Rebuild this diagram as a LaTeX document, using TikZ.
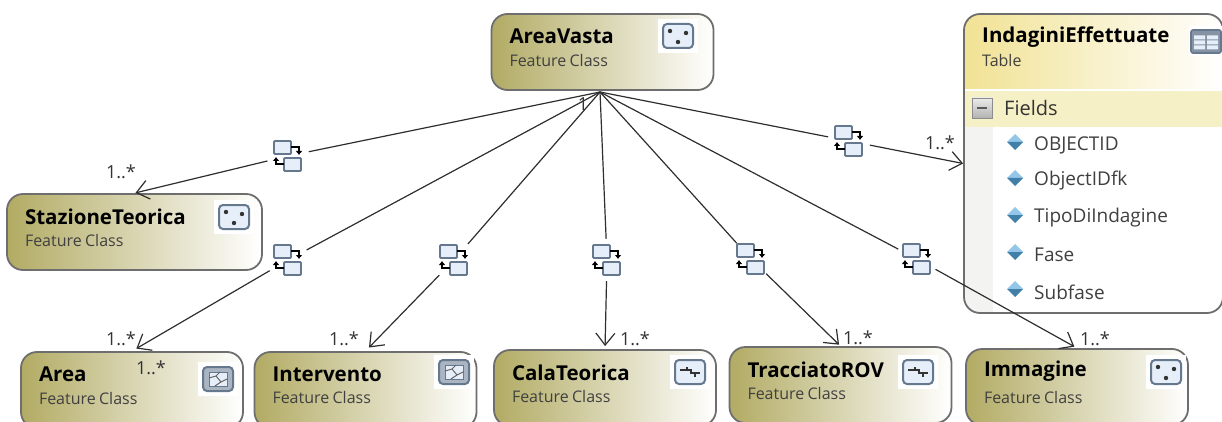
\documentclass[tikz,border=0pt]{standalone}
\usepackage{fontspec}
\setmainfont{Open Sans}
\usetikzlibrary{
    calc,
    arrows.meta
}
\definecolor{boxedge}{HTML}{6E6E6E}
\definecolor{olive}{HTML}{B2AB64}
\definecolor{iconedge}{HTML}{66788E}
\definecolor{iconfill}{HTML}{E6EFF9}
\definecolor{tablehead}{HTML}{F1E294}
\definecolor{tableband}{HTML}{F6F0C6}
\definecolor{tableside}{HTML}{F3F3F1}
\definecolor{linkline}{HTML}{2E2E2E}
\definecolor{marktop}{HTML}{93C6E8}
\definecolor{markbottom}{HTML}{3F7FA8}
\newcommand{\titlefont}{\fontsize{20.5}{24}\selectfont\bfseries}
\newcommand{\subfont}{\fontsize{16}{19}\selectfont\color{black!75}}
\newcommand{\boxlabel}[1]{{\titlefont #1}\\[9pt]{\subfont Feature Class}\\[-3pt]\mbox{}}
\tikzset{
    >={Straight Barb[length=12pt,width=19pt]},
    fcbox/.style={draw=boxedge, line width=1.8pt, rounded corners=16pt, left color=olive,
        right color=white, minimum height=76pt, inner xsep=18pt, inner ysep=0pt,
        text width=#1, align=left},
    fcbox/.default=186pt,
    relnode/.style={circle, minimum size=42pt, inner sep=0pt},
    linklabel/.style={font=\fontsize{18}{20}\selectfont, text=black!80, inner sep=0pt},
    fieldtext/.style={anchor=west, inner sep=0pt, font=\fontsize{19}{22}\selectfont, text=black!75},
    link/.style={draw=linkline, line width=1.2pt},
    iconback/.pic={\fill[white] (-20,-17) rectangle (20,17);},
    iconbody/.pic={\draw[draw=iconedge, fill=iconfill, line width=2pt, rounded corners=4pt] (-15,-12) rectangle (15,12);},
    pointicon/.pic={
        \pic {iconback}; \pic {iconbody};
        \fill[black!80] (-8,-5) circle (2.2pt) (8,-3) circle (2.2pt) (0,6) circle (2.2pt);
    },
    lineicon/.pic={
        \pic {iconback}; \pic {iconbody};
        \draw[black!80, line width=1.5pt] (-10,-2) -- (1,-2) -- (1,1) -- (10,1) (-3,-2) -- (-3,-5) (5,1) -- (5,5);
    },
    polyicon/.pic={
        \pic {iconback};
        \draw[draw=iconedge, fill=iconedge!55, line width=2pt, rounded corners=4pt] (-15,-12) rectangle (15,12);
        \draw[draw=iconedge, fill=iconfill, line width=1pt] (-9,-7) rectangle (9,7);
        \draw[black!60, line width=1pt] (-9,-1) -- (-2,-3) -- (3,3) -- (9,0) (2,-7) -- (-2,-3) (-3,7) -- (3,3);
    },
    tableicon/.pic={
        \fill[white] (-17,-15) rectangle (17,15);
        \draw[draw=iconedge, fill=iconedge!80, line width=1.6pt, rounded corners=2pt] (-15,-11) rectangle (15,12);
        \foreach \row in {-4,1,6}{
            \fill[iconfill] (-12,\row-1.5) rectangle (-1,\row+2.5) (1,\row-1.5) rectangle (12,\row+2.5);
        }
    },
    relicon/.pic={
        \draw[draw=iconedge, fill=iconfill, line width=1.8pt, rounded corners=1pt] (-14,-15) rectangle (3,-2);
        \draw[draw=iconedge, fill=iconfill, line width=1.8pt, rounded corners=1pt] (-4,2) rectangle (13,15);
        \draw[black, line width=1.8pt, -{Latex[length=4pt,width=7pt]}] (3,-9) -- (11,-9) -- (11,-1);
        \draw[black, line width=1.8pt, -{Latex[length=4pt,width=7pt]}] (-4,8) -- (-12,8) -- (-12,1);
    },
    fieldmark/.pic={
        \fill[marktop] (-8,-1) -- (0,-9) -- (8,-1) -- cycle;
        \fill[markbottom] (-8,-1) -- (0,7) -- (8,-1) -- cycle;
    }
}

\begin{document}
\begin{tikzpicture}[x=1pt, y=-1pt]
    \useasboundingbox (0,0) rectangle (1222,422);
    \clip (0,0) rectangle (1222,422);

    % table box
    \begin{scope}
        \clip[rounded corners=16pt] (964,14) rectangle (1223,313);
        \fill[white] (964,14) rectangle (1223,313);
        \shade[left color=tablehead, right color=white] (964,14) rectangle (1223,89);
        \fill[tableband] (964,91) rectangle (1223,127);
        \fill[tableside] (964,127) rectangle (993,313);
    \end{scope}
    \node[draw=boxedge, line width=1.8pt, rounded corners=16pt, minimum width=259pt, minimum height=299pt] (indagini) at (1093.5,163.5) {};
    \node[anchor=west, inner sep=0pt, font=\titlefont] (indtitle) at (982,37) {IndaginiEffettuate};
    \node[anchor=west, inner sep=0pt, font=\subfont] (indsub) at (982,61) {Table};
    \node[anchor=west, inner sep=0pt, font=\fontsize{20}{24}\selectfont, text=black!80] (fields) at (1004,108) {Fields};
    \node[draw=black!45, top color=black!8, bottom color=black!30, minimum size=20pt, inner sep=0pt] (minusbox) at (982,108) {};
    \draw[black!65, line width=2pt] (minusbox.center) ++(-5,0) -- ++(10,0);
    \pic at (1206,41) {tableicon};
    \foreach \fname/\ypos in {OBJECTID/145, ObjectIDfk/181, TipoDiIndagine/218, Fase/255, Subfase/292}{
        \pic at (1015,\ypos-2) {fieldmark};
        \node[fieldtext] (field\ypos) at (1034,\ypos) {\fname};
    }

    % feature classes
    \node[fcbox] (areavasta) at (602.5,52) {\boxlabel{AreaVasta}};
    \node[fcbox=219pt] (stazione) at (134.5,232) {\boxlabel{StazioneTeorica}};
    \node[fcbox] (area) at (132,390) {\boxlabel{Area}};
    \node[fcbox] (intervento) at (365.5,390) {\boxlabel{Intervento}};
    \node[fcbox] (cala) at (605,388) {\boxlabel{CalaTeorica}};
    \node[fcbox] (tracciato) at (840.5,385) {\boxlabel{TracciatoROV}};
    \node[fcbox] (immagine) at (1077,387) {\boxlabel{Immagine}};

    \pic at (678,36) {pointicon};
    \pic at (234,217) {pointicon};
    \pic at (218,379) {polyicon};
    \pic at (454,372) {polyicon};
    \pic at (690,372) {lineicon};
    \pic at (918,372) {lineicon};
    \pic at (1166,372) {pointicon};

    % associations
    \coordinate (hub) at (600,92);
    \foreach \rname/\xpos/\ypos in {relstazione/288/156, relarea/288/260, relintervento/454/260,
        relcala/607/260, reltracciato/751/259, relimmagine/917/259, relindagini/849/141}{
        \node[relnode] (\rname) at (\xpos,\ypos) {};
        \pic at (\xpos,\ypos) {relicon};
    }
    \foreach \rname/\target/\gap in {relstazione/stazione.north/1pt, relarea/area.north/5pt,
        relintervento/intervento.north/5pt, relcala/cala.north/3pt, reltracciato/tracciato.north/2pt,
        relimmagine/immagine.north/3pt, relindagini/indagini.west/0pt}{
        \draw[link] (hub) -- (\rname);
        \draw[link, ->, shorten >=\gap] (\rname) -- (\target);
    }

    % multiplicities
    \node[linklabel] (one) at (583,104) {1};
    \node[linklabel] (mstazione) at (121,172) {1..*};
    \node[linklabel] (marea) at (121,339) {1..*};
    \node[linklabel] (mareab) at (151,368) {1..*};
    \node[linklabel] (mintervento) at (344,339) {1..*};
    \node[linklabel] (mcala) at (635,339) {1..*};
    \node[linklabel] (mtracciato) at (858,338) {1..*};
    \node[linklabel] (mimmagine) at (1095,339) {1..*};
    \node[linklabel] (mindagini) at (940,143) {1..*};
\end{tikzpicture}
\end{document}
